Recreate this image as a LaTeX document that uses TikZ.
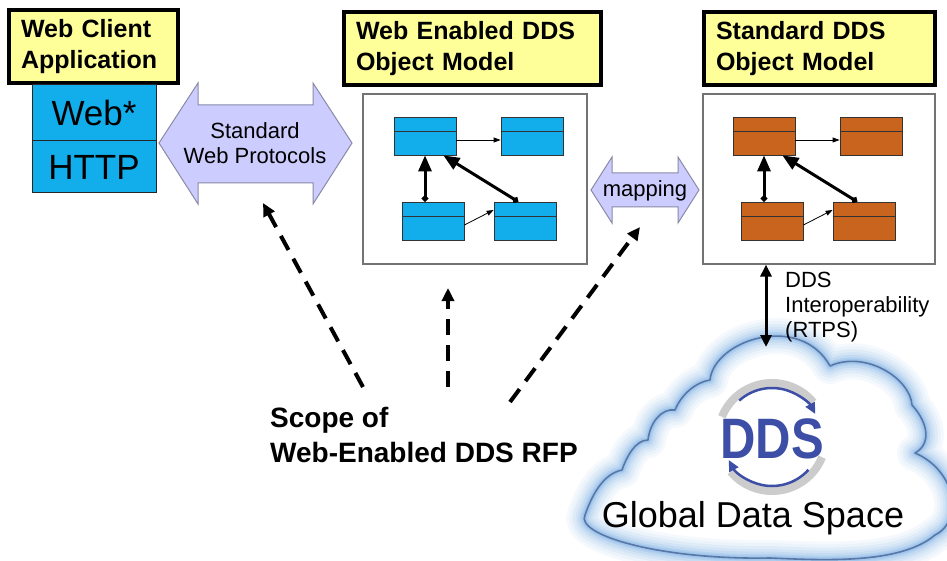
\documentclass[tikz,border=0pt]{standalone}
\usepackage{fontspec}
\setmainfont{Liberation Sans}
\usetikzlibrary{arrows.meta,calc}
\definecolor{titleyellow}{HTML}{FFFF99}
\definecolor{webcyan}{HTML}{12AEEB}
\definecolor{ddsorange}{HTML}{C8641E}
\definecolor{protofill}{HTML}{CCCCFF}
\definecolor{protoedge}{HTML}{8A8AA8}
\definecolor{ddsblue}{HTML}{3C4EA5}
\definecolor{glowblue}{HTML}{9CC3EA}
\definecolor{edgeblue}{HTML}{5877A8}

\begin{document}
\begin{tikzpicture}[x=1pt,y=1pt,
    title/.style={draw,line width=4pt,fill=titleyellow,anchor=north west,align=left,inner xsep=12pt,minimum height=73pt,font=\fontsize{25}{31}\selectfont\bfseries},
    stack/.style={draw=black!85,line width=1pt,fill=webcyan,minimum width=124pt,inner sep=0pt,font=\fontsize{35}{40}\selectfont},
    model/.style={draw=black!55,line width=1.2pt,fill=white,minimum height=170pt,inner sep=0pt},
    umlbox/.style={draw=black!80,line width=0.8pt,minimum width=62pt,minimum height=38pt,inner sep=0pt},
    thin link/.style={line width=0.8pt,-{Triangle[length=7pt,width=5pt]}},
    thick link/.style={line width=3pt,{Circle[length=6pt]}-{Triangle[length=16pt,width=13pt]}},
    wide arrow/.style={draw=protoedge,line width=1pt,fill=protofill},
    scope arrow/.style={line width=4pt,dash pattern=on 16pt off 10pt,-{Triangle[length=13pt,width=12pt]}}]
    \useasboundingbox (0,0) rectangle (947,-561);
    \fill[white] (0,0) rectangle (947,-561);
    \clip (0,0) rectangle (947,-561);

    \node[title,text width=145pt] (client) at (7,-8) {Web Client\\Application};
    \node[title,text width=233pt] (wtitle) at (342,-10) {Web Enabled DDS\\Object Model};
    \node[title,text width=207pt] (stitle) at (702,-10) {Standard DDS\\Object Model};
    \node[stack,minimum height=56pt] (web) at (94,-113) {Web*};
    \node[stack,minimum height=52pt] (http) at (94,-167) {HTTP};
    \node[model,minimum width=224pt] (wmodel) at (475,-179) {};
    \node[model,minimum width=232pt] (smodel) at (819,-179) {};

    \draw[wide arrow] (159,-143) -- (198,-83) -- (198,-105) -- (313,-105) -- (313,-83) -- (352,-143) -- (313,-204) -- (313,-183) -- (198,-183) -- (198,-204) -- cycle;
    \node[font=\fontsize{22}{25}\selectfont,align=center] (proto) at (255,-143) {Standard\\Web Protocols};
    \draw[wide arrow] (591,-190) -- (612,-157) -- (612,-173) -- (678,-173) -- (678,-157) -- (699,-190) -- (678,-223) -- (678,-207) -- (612,-207) -- (612,-223) -- cycle;
    \node[font=\fontsize{22}{25}\selectfont,anchor=base] (mapping) at (645,-197) {mapping};

    \foreach \m/\dx/\c in {w/0/webcyan,s/339/ddsorange} {
        \node[umlbox,fill=\c] (\m a) at (425+\dx,-136) {};
        \node[umlbox,fill=\c] (\m b) at (532+\dx,-136) {};
        \node[umlbox,fill=\c] (\m c) at (433+\dx,-221) {};
        \node[umlbox,fill=\c] (\m d) at (525+\dx,-221) {};
        \foreach \n in {a,b,c,d} \draw[black!80,line width=0.8pt] ([yshift=-15pt]\m\n.north west) -- ([yshift=-15pt]\m\n.north east);
        \draw[thin link] ([yshift=-4pt]\m a.east) -- ([yshift=-4pt]\m b.west);
        \draw[thin link] ([yshift=-4pt]\m c.east) -- ([yshift=11pt]\m d.west);
        \draw[thick link] ([xshift=-8pt]\m c.north) -- (\m a.south);
        \draw[thick link] ([xshift=-7pt]\m d.north) -- ([xshift=-13pt]\m a.south east);
    }

    \foreach \w/\p/\f in {36/10/white,30/20/none,24/32/none,18/45/none,13/60/none,8/78/none,4.5/95/none} \draw[line width=\w pt,draw=glowblue!\p!white,fill=\f,line join=round] (585,-515) .. controls (592,-495) and (603,-474) .. (622,-470) .. controls (626,-458) and (635,-440) .. (648,-440) .. controls (650,-422) and (662,-408) .. (675,-410) .. controls (682,-393) and (697,-382) .. (710,-380) .. controls (714,-340) and (800,-312) .. (830,-366) .. controls (865,-350) and (910,-378) .. (912,-405) .. controls (930,-425) and (930,-445) .. (915,-453) .. controls (955,-470) and (965,-520) .. (935,-535) .. controls (900,-565) and (820,-560) .. (770,-558) .. controls (660,-560) and (575,-535) .. (585,-515) -- cycle;
    \draw[edgeblue,line width=1.6pt,line join=round] (585,-515) .. controls (592,-495) and (603,-474) .. (622,-470) .. controls (626,-458) and (635,-440) .. (648,-440) .. controls (650,-422) and (662,-408) .. (675,-410) .. controls (682,-393) and (697,-382) .. (710,-380) .. controls (714,-340) and (800,-312) .. (830,-366) .. controls (865,-350) and (910,-378) .. (912,-405) .. controls (930,-425) and (930,-445) .. (915,-453) .. controls (955,-470) and (965,-520) .. (935,-535) .. controls (900,-565) and (820,-560) .. (770,-558) .. controls (660,-560) and (575,-535) .. (585,-515) -- cycle;

    \coordinate (cloudtop) at (766,-347);
    \draw[line width=3pt,{Triangle[length=12pt,width=11pt]}-{Triangle[length=12pt,width=11pt]}] (smodel.south -| cloudtop) -- (cloudtop);
    \node[anchor=north west,inner sep=0pt,align=left,font=\fontsize{22}{25}\selectfont] (interop) at (785,-272) {DDS\\Interoperability\\(RTPS)};

    \coordinate (logo) at (772,-437);
    \draw[gray!40,line width=8pt] (logo) ++(158:54) arc[start angle=158,end angle=40,radius=54];
    \draw[ddsblue,line width=2.5pt,-{Triangle[length=11pt,width=10pt]}] (logo) ++(132:49) arc[start angle=132,end angle=28,radius=49];
    \draw[gray!40,line width=8pt] (logo) ++(-22:54) arc[start angle=-22,end angle=-140,radius=54];
    \draw[ddsblue,line width=2.5pt,-{Triangle[length=11pt,width=10pt]}] (logo) ++(-42:49) arc[start angle=-42,end angle=-152,radius=49];
    \node[font=\fontsize{57}{60}\selectfont\bfseries,text=ddsblue,xscale=0.86,anchor=base] (dds) at (772,-458) {DDS};
    \node[font=\fontsize{36}{40}\selectfont,anchor=base] (gds) at (753,-527) {Global Data Space};

    \node[anchor=north west,inner sep=0pt,align=left,font=\fontsize{28}{35}\selectfont\bfseries] (scope) at (270,-407) {Scope of\\Web-Enabled DDS RFP};
    \coordinate (h1) at (263,-203);
    \coordinate (h2) at (448,-288);
    \coordinate (h3) at (640,-227);
    \coordinate (t1) at (363,-387);
    \coordinate (t2) at (448,-387);
    \coordinate (t3) at (510,-402);
    \foreach \i in {1,2,3} \draw[scope arrow] (t\i) -- (h\i);
\end{tikzpicture}
\end{document}
